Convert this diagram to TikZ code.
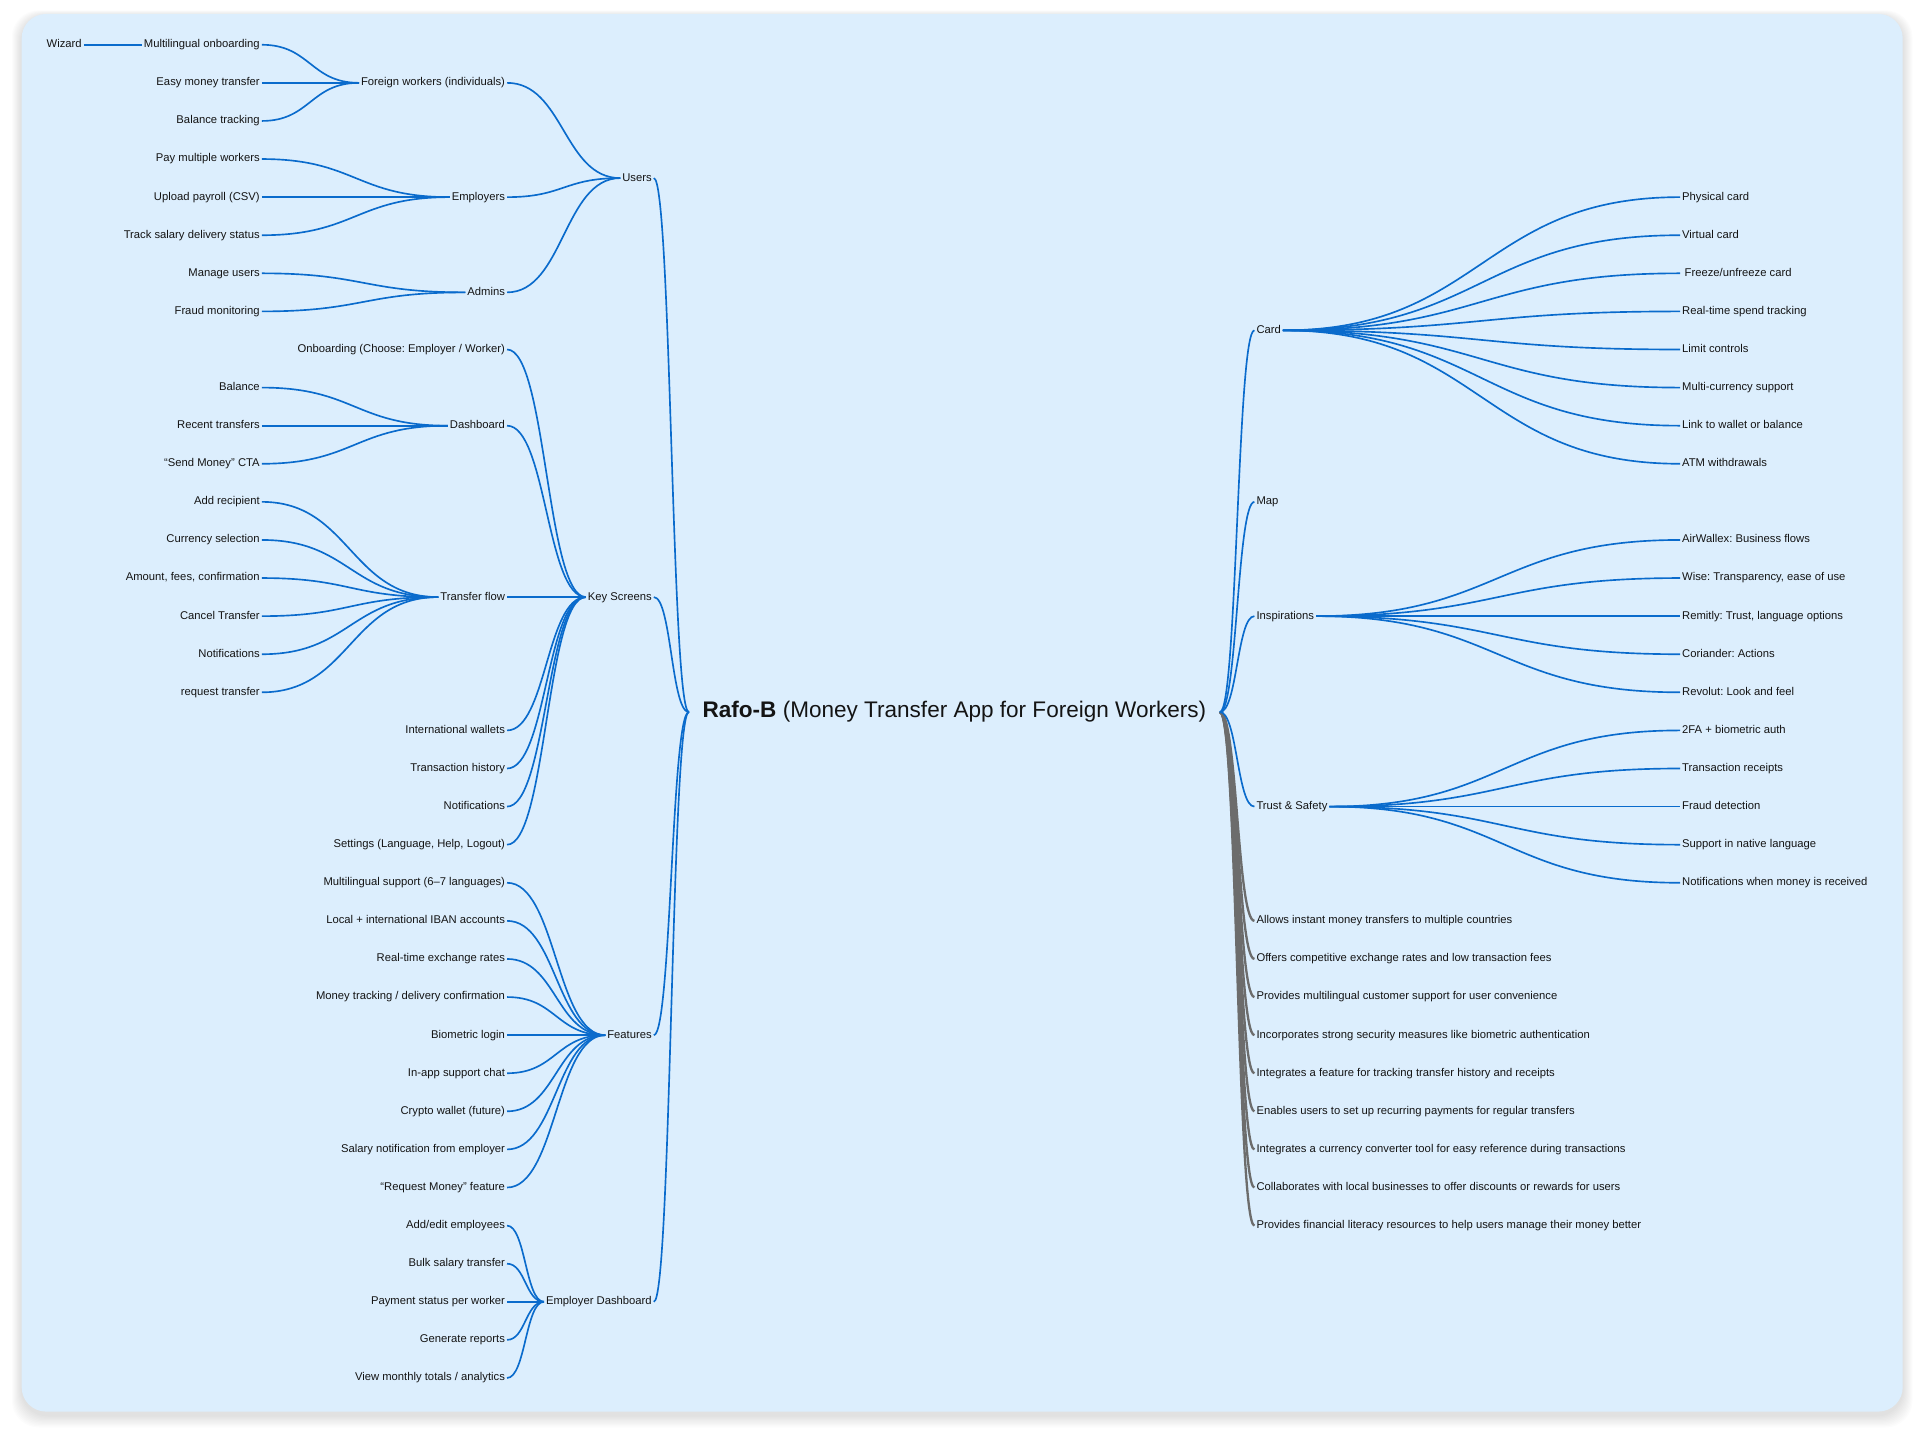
\documentclass[tikz,border=0pt]{standalone}
\usepackage{fontspec}
\usepackage{graphicx}
\setmainfont{Liberation Sans}
\usetikzlibrary{calc}
\definecolor{bg}{HTML}{DCEEFD}
\definecolor{lnk}{HTML}{0A6BCC}
\definecolor{gry}{HTML}{6C6C6C}
\definecolor{txt}{HTML}{141414}
\newcommand\lblfont{\fontsize{9.2}{11}\selectfont}
\frenchspacing
\tikzset{
  lbl/.style={font=\lblfont, text=txt, inner xsep=1.5pt, inner ysep=0pt, text height=6.4pt, text depth=1.6pt},
  lft/.style={lbl, anchor=east},
  rgt/.style={lbl, anchor=west},
  mm/.style={draw=lnk, line width=1.35pt, to path={let \p1=(\tikztostart), \p2=(\tikztotarget) in .. controls ({(\x1+\x2)/2},\y1) and ({(\x1+\x2)/2},\y2) .. (\tikztotarget)}},
  mmg/.style={mm, draw=gry, line width=1.9pt},
}
\begin{document}
\begin{tikzpicture}[x=1pt,y=-1pt]
\useasboundingbox (0,0) rectangle (1568,1172);
\fill[white] (0,0) rectangle (1568,1172);
\foreach \k in {1,...,10} {\fill[black,opacity=0.012,rounded corners=22pt] ({17.7-\k*0.8},{11.4-\k*0.5+2}) rectangle ({1555.5+\k*0.8},{1154+\k+3});}
\fill[bg, rounded corners=20pt] (17.7,11.4) rectangle (1555.5,1154);

\begin{scope}[yshift=-1.6pt]
% ---------- root ----------
\node[inner xsep=11pt, inner ysep=2pt, text=txt] (root) at (780.25,580.5) {\resizebox{411.7pt}{!}{\textbf{Rafo-B} (Money Transfer App for Foreign Workers)}};

% ---------- left: Users ----------
\node[lft] (wiz) at (68.5,35.00) {Wizard};
\node[lft] (mo) at (214,35.00) {Multilingual onboarding};
\node[lft] (emt) at (214,66.14) {Easy money transfer};
\node[lft] (bt) at (214,97.28) {Balance tracking};
\node[lft] (pmw) at (214,128.42) {Pay multiple workers};
\node[lft] (up) at (214,159.56) {Upload payroll (CSV)};
\node[lft] (tsd) at (214,190.70) {Track salary delivery status};
\node[lft] (mu) at (214,221.84) {Manage users};
\node[lft] (fm) at (214,252.98) {Fraud monitoring};
\node[lft] (fw) at (414.5,66.14) {Foreign workers (individuals)};
\node[lft] (emp) at (414.5,159.56) {Employers};
\node[lft] (adm) at (414.5,237.41) {Admins};
\node[lft] (users) at (534.5,144.0) {Users};

% ---------- left: Key Screens ----------
\node[lft] (onb) at (414.5,284.12) {Onboarding (Choose: Employer / Worker)};
\node[lft] (bal) at (214,315.26) {Balance};
\node[lft] (rt) at (214,346.40) {Recent transfers};
\node[lft] (smc) at (214,377.54) {“Send Money” CTA};
\node[lft] (dash) at (414.5,346.40) {Dashboard};
\node[lft] (ar) at (214,408.68) {Add recipient};
\node[lft] (cs) at (214,439.82) {Currency selection};
\node[lft] (afc) at (214,470.96) {Amount, fees, confirmation};
\node[lft] (ct) at (214,502.10) {Cancel Transfer};
\node[lft] (ntf) at (214,533.24) {Notifications};
\node[lft] (rqt) at (214,564.38) {request transfer};
\node[lft] (tf) at (414.5,486.53) {Transfer flow};
\node[lft] (iw) at (414.5,595.52) {International wallets};
\node[lft] (th) at (414.5,626.66) {Transaction history};
\node[lft] (ntfb) at (414.5,657.80) {Notifications};
\node[lft] (sett) at (414.5,688.94) {Settings (Language, Help, Logout)};
\node[lft] (ks) at (534.5,486.53) {Key Screens};

% ---------- left: Features ----------
\node[lft] (fa) at (414.5,720.08) {Multilingual support (6–7 languages)};
\node[lft] (fb) at (414.5,751.22) {Local + international IBAN accounts};
\node[lft] (fc) at (414.5,782.36) {Real-time exchange rates};
\node[lft] (fd) at (414.5,813.50) {Money tracking / delivery confirmation};
\node[lft] (fe) at (414.5,844.64) {Biometric login};
\node[lft] (ff) at (414.5,875.78) {In-app support chat};
\node[lft] (fg) at (414.5,906.92) {Crypto wallet (future)};
\node[lft] (fh) at (414.5,938.06) {Salary notification from employer};
\node[lft] (fi) at (414.5,969.20) {“Request Money” feature};
\node[lft] (feat) at (534.5,844.64) {Features};

% ---------- left: Employer Dashboard ----------
\node[lft] (ea) at (414.5,1000.34) {Add/edit employees};
\node[lft] (eb) at (414.5,1031.48) {Bulk salary transfer};
\node[lft] (ec) at (414.5,1062.62) {Payment status per worker};
\node[lft] (edd) at (414.5,1093.76) {Generate reports};
\node[lft] (ee) at (414.5,1124.90) {View monthly totals / analytics};
\node[lft] (ed) at (534.5,1062.62) {Employer Dashboard};

% ---------- right ----------
\node[rgt] (card) at (1025.5,268.47) {Card};
\node[rgt] (ca) at (1373.5,159.56) {Physical card};
\node[rgt] (cb) at (1373.5,190.70) {Virtual card};
\node[rgt] (cc) at (1373.5,221.84) {\hspace{2pt}Freeze/unfreeze card};
\node[rgt] (cd) at (1373.5,252.98) {Real-time spend tracking};
\node[rgt] (ce) at (1373.5,284.12) {Limit controls};
\node[rgt] (cf) at (1373.5,315.26) {Multi-currency support};
\node[rgt] (cg) at (1373.5,346.40) {Link to wallet or balance};
\node[rgt] (ch) at (1373.5,377.54) {ATM withdrawals};
\node[rgt] (map) at (1025.5,408.68) {Map};
\node[rgt] (insp) at (1025.5,502.10) {Inspirations};
\node[rgt] (ia) at (1373.5,439.82) {AirWallex: Business flows};
\node[rgt] (ib) at (1373.5,470.96) {Wise: Transparency, ease of use};
\node[rgt] (ic) at (1373.5,502.10) {Remitly: Trust, language options};
\node[rgt] (id) at (1373.5,533.24) {Coriander: Actions};
\node[rgt] (ie) at (1373.5,564.38) {Revolut: Look and feel};
\node[rgt] (ts) at (1025.5,657.80) {Trust \& Safety};
\node[rgt] (ta) at (1373.5,595.52) {2FA + biometric auth};
\node[rgt] (tb) at (1373.5,626.66) {Transaction receipts};
\node[rgt] (tc) at (1373.5,657.80) {Fraud detection};
\node[rgt] (td) at (1373.5,688.94) {Support in native language};
\node[rgt] (te) at (1373.5,720.08) {Notifications when money is received};
\node[rgt] (ga) at (1025.5,751.22) {Allows instant money transfers to multiple countries};
\node[rgt] (gb) at (1025.5,782.36) {Offers competitive exchange rates and low transaction fees};
\node[rgt] (gc) at (1025.5,813.50) {Provides multilingual customer support for user convenience};
\node[rgt] (gd) at (1025.5,844.64) {Incorporates strong security measures like biometric authentication};
\node[rgt] (ge) at (1025.5,875.78) {Integrates a feature for tracking transfer history and receipts};
\node[rgt] (gf) at (1025.5,906.92) {Enables users to set up recurring payments for regular transfers};
\node[rgt] (gg) at (1025.5,938.06) {Integrates a currency converter tool for easy reference during transactions};
\node[rgt] (gh) at (1025.5,969.20) {Collaborates with local businesses to offer discounts or rewards for users};
\node[rgt] (gi) at (1025.5,1000.34) {Provides financial literacy resources to help users manage their money better};

% ---------- edges: left ----------
\foreach \kid/\mom in {wiz/mo, mo/fw, emt/fw, bt/fw, pmw/emp, up/emp, tsd/emp, mu/adm, fm/adm,
  fw/users, emp/users, adm/users,
  bal/dash, rt/dash, smc/dash, ar/tf, cs/tf, afc/tf, ct/tf, ntf/tf, rqt/tf,
  onb/ks, dash/ks, tf/ks, iw/ks, th/ks, ntfb/ks, sett/ks,
  fa/feat, fb/feat, fc/feat, fd/feat, fe/feat, ff/feat, fg/feat, fh/feat, fi/feat,
  ea/ed, eb/ed, ec/ed, edd/ed, ee/ed,
  users/root, ks/root, feat/root, ed/root}
  {\draw[mm] (\kid.east) to (\mom.west);}

% ---------- edges: right ----------
\foreach \kid in {ga,gb,gc,gd,ge,gf,gg,gh,gi}
  {\draw[mmg] (root.east) to (\kid.west);}
\foreach \mom/\kid in {root/card, root/map, root/insp, root/ts,
  card/ca, card/cb, card/cc, card/cd, card/ce, card/cf, card/cg, card/ch,
  insp/ia, insp/ib, insp/ic, insp/id, insp/ie,
  ts/ta, ts/tb, ts/tc, ts/td, ts/te}
  {\draw[mm] (\mom.east) to (\kid.west);}
\end{scope}
\end{tikzpicture}
\end{document}
